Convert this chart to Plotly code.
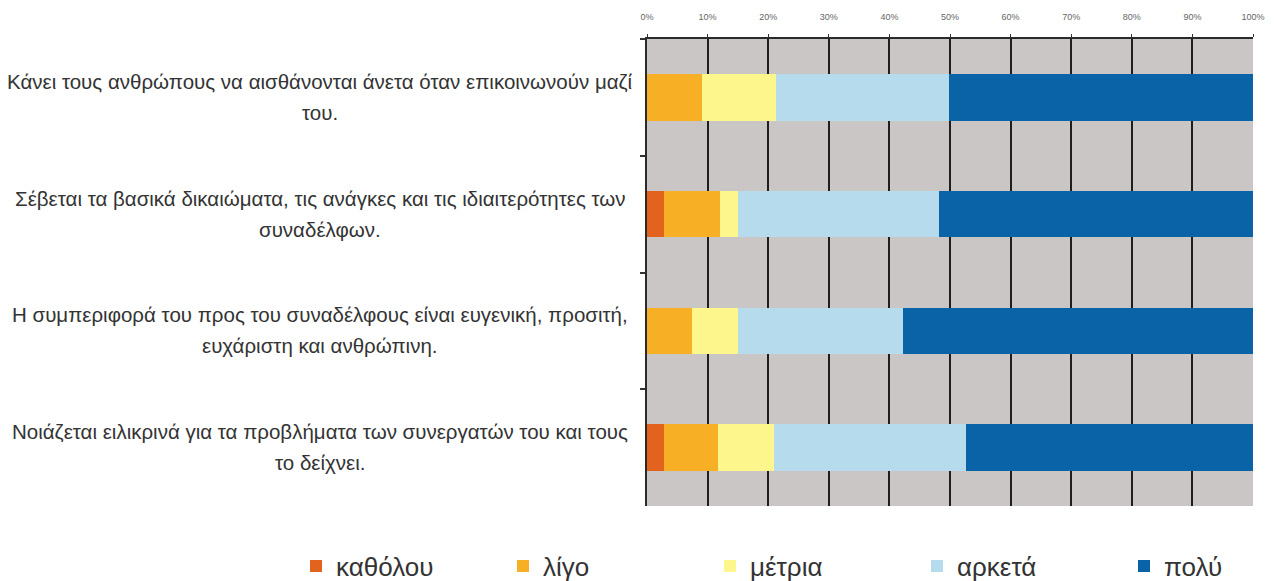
import plotly.graph_objects as go

# Categories (top to bottom), each label split into two lines
categories = ["Q1", "Q2", "Q3", "Q4"]
label_line1 = [
    "Κάνει τους ανθρώπους να αισθάνονται άνετα όταν επικοινωνούν μαζί",
    "Σέβεται τα βασικά δικαιώματα, τις ανάγκες και τις ιδιαιτερότητες των",
    "Η συμπεριφορά του προς του συναδέλφους είναι ευγενική, προσιτή,",
    "Νοιάζεται ειλικρινά για τα προβλήματα των συνεργατών του και τους",
]
label_line2 = [
    "του.",
    "συναδέλφων.",
    "ευχάριστη και ανθρώπινη.",
    "το δείχνει.",
]

series_names = ["καθόλου", "λίγο", "μέτρια", "αρκετά", "πολύ"]
series_colors = ["#e2631d", "#f7b026", "#fcf68c", "#b6dbec", "#0a62a7"]

katholou = [0.0, 2.8, 0.0, 2.8]
ligo = [9.1, 9.2, 7.4, 8.9]
metria = [12.2, 3.0, 7.6, 9.3]
arketa = [28.6, 33.2, 27.2, 31.6]
poly = [50.1, 51.8, 57.8, 47.4]
series_values = [katholou, ligo, metria, arketa, poly]

x_ticks = [0, 10, 20, 30, 40, 50, 60, 70, 80, 90, 100]
x_tick_text = ["0%", "10%", "20%", "30%", "40%", "50%", "60%", "70%", "80%", "90%", "100%"]

FONT = "Liberation Sans, Arial, sans-serif"

fig = go.Figure()
for name, color, vals in zip(series_names, series_colors, series_values):
    fig.add_trace(go.Bar(
        y=categories, x=vals, name=name, orientation="h",
        marker=dict(color=color, line=dict(width=0)),
        width=0.4,
    ))

x0, x1 = 647 / 1278, 1253 / 1278
y0, y1 = 1 - 506 / 581, 1 - 39 / 581

fig.update_layout(
    width=1278, height=581,
    barmode="stack",
    paper_bgcolor="white",
    plot_bgcolor="#c9c6c5",
    margin=dict(l=0, r=0, t=0, b=0, autoexpand=False),
    font=dict(family=FONT, color="#333333"),
    showlegend=True,
    legend=dict(
        orientation="h", x=296 / 1278, xanchor="left", y=1 - 566 / 581, yanchor="middle",
        entrywidth=162, entrywidthmode="pixels",
        font=dict(size=26, color="#333333", family=FONT),
        traceorder="normal", bgcolor="rgba(0,0,0,0)",
        itemclick=False,
    ),
    xaxis=dict(
        domain=[x0, x1], range=[0, 100], side="top",
        tickmode="array", tickvals=x_ticks, ticktext=x_tick_text,
        tickfont=dict(size=9, color="#666666"),
        ticks="outside", ticklen=3, tickcolor="#333333", tickwidth=1,
        ticklabelstandoff=10,
        showgrid=True, gridcolor="#1e1e1e", gridwidth=2,
        showline=True, linecolor="#2a2a2a", linewidth=2,
        zeroline=False, fixedrange=True, automargin=False,
    ),
    yaxis=dict(
        domain=[y0, y1],
        categoryorder="array", categoryarray=categories,
        autorange="reversed",
        showticklabels=False,
        ticks="outside", tickson="boundaries", ticklen=5,
        tickcolor="#333333", tickwidth=2,
        showgrid=False,
        showline=True, linecolor="#2a2a2a", linewidth=2,
        zeroline=False, fixedrange=True, automargin=False,
    ),
)

# Category labels, centred in the left area, two lines each
for cat, l1, l2 in zip(categories, label_line1, label_line2):
    fig.add_annotation(
        x=320 / 1278, xref="paper", xanchor="center",
        y=cat, yref="y", yanchor="middle", yshift=16,
        text=l1, showarrow=False,
        font=dict(size=20.5, color="#333333", family=FONT),
    )
    fig.add_annotation(
        x=320 / 1278, xref="paper", xanchor="center",
        y=cat, yref="y", yanchor="middle", yshift=-15,
        text=l2, showarrow=False,
        font=dict(size=20.5, color="#333333", family=FONT),
    )

fig.write_html(
    "out.html",
    config={"displayModeBar": False},
    post_script="document.body.style.margin='0';document.body.style.padding='0';",
)
